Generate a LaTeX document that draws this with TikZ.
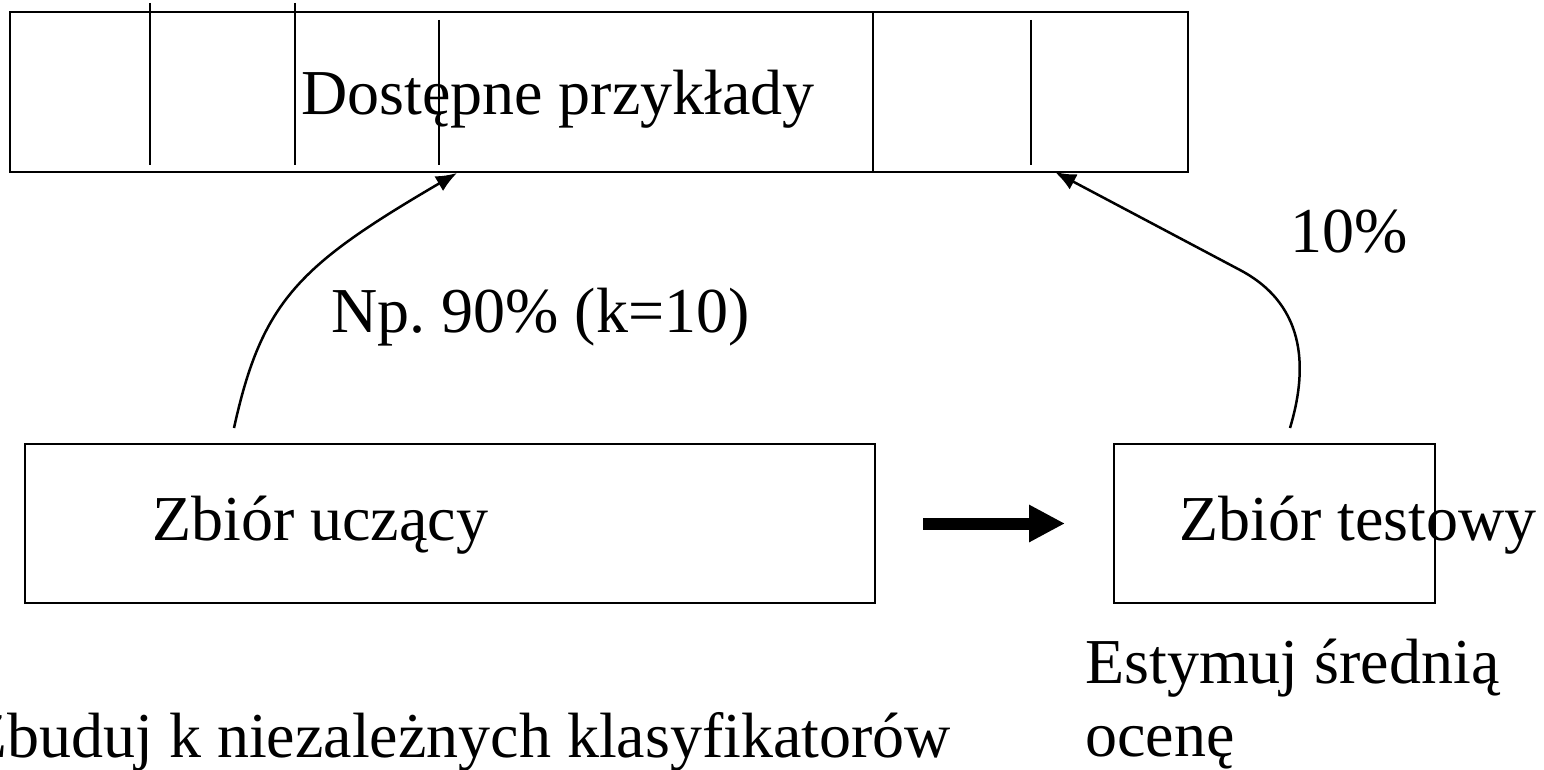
\documentclass[tikz,border=0pt]{standalone}
\usepackage{fontspec}
\setmainfont{Liberation Serif}
\usetikzlibrary{arrows.meta}
\frenchspacing
\begin{document}
\begin{tikzpicture}[x=1pt,y=-1pt,
  box/.style={draw=black,line width=2pt,inner sep=0pt},
  txt/.style={inner sep=0pt,anchor=base west,font=\fontsize{64}{70}\selectfont},
  divider/.style={line width=2pt},
  link/.style={line width=2.5pt,-{Latex[length=21pt,width=17pt]}},
  bigarrow/.style={line width=12pt,-{Triangle[length=36pt,width=35pt]}}
]
\useasboundingbox (0,0) rectangle (1544,770);
\fill[white] (0,0) rectangle (1544,770);

% pool of available examples, split into folds
\node[box,minimum width=1178pt,minimum height=160pt] (pool) at (599,92) {};
\draw[divider] (150,3) -- (150,165);
\draw[divider] (295,3) -- (295,165);
\draw[divider] (439,20) -- (439,165);
\draw[divider] (873,12) -- (873,172);
\draw[divider] (1031,20) -- (1031,165);
\node[txt] (poolText) at (301,115) {Dostępne przykłady};

% training and test sets
\node[box,minimum width=850pt,minimum height=159pt] (train) at (450,523.5) {};
\node[txt] (trainText) at (152,540) {Zbiór uczący};
\node[box,minimum width=321pt,minimum height=159pt] (test) at (1274.5,523.5) {};
\node[txt] (testText) at (1179,540) {Zbiór testowy};

% connector end points
\coordinate (trainOut) at (234,428);
\coordinate (poolInL) at (457,173);
\coordinate (testOut) at (1290,428);
\coordinate (poolInR) at (1055,172);

\draw[link] (trainOut) .. controls (262,300) and (300,265) .. (poolInL);
\draw[link] (testOut) .. controls (1306,375) and (1310,307) .. (1240,270) -- (poolInR);
\draw[bigarrow,shorten <=47pt,shorten >=48pt] (train) -- (test);

% labels
\node[txt] (pct90) at (331,332) {Np. 90\% (k=10)};
\node[txt] (pct10) at (1290,252) {10\%};
\node[txt] (estimate) at (1085,683) {Estymuj średnią};
\node[txt] (estimate2) at (1085,756) {ocenę};
\node[txt] (build) at (-32,757) {Zbuduj k niezależnych klasyfikatorów};
\end{tikzpicture}
\end{document}
